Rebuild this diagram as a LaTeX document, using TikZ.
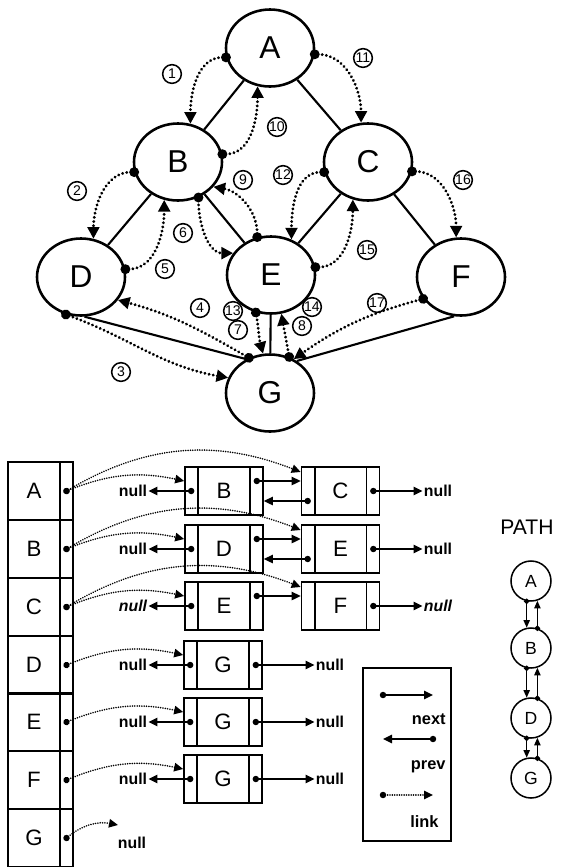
\documentclass[tikz,border=0pt]{standalone}
\usepackage{fontspec}
\setmainfont{Liberation Sans}
\usetikzlibrary{calc,positioning,arrows.meta,shapes.geometric}

\newcommand{\fsz}[1]{\fontsize{#1}{#1}\selectfont}
% list box: name, x, y, label
\newcommand{\listnode}[4]{%
  \node[lbox] (#1) at (#2,#3) {#4};
  \draw[lline] ($(#1.north west)+(4.2mm,0)$) -- ($(#1.south west)+(4.2mm,0)$);
  \draw[lline] ($(#1.north east)-(4.2mm,0)$) -- ($(#1.south east)-(4.2mm,0)$);
  \coordinate (#1-l) at ($(#1.west)+(2.1mm,0)$);
  \coordinate (#1-r) at ($(#1.east)-(2.1mm,0)$);
}

\tikzset{
  gnode/.style={ellipse, draw, line width=2.2pt, minimum width=26.4mm, minimum height=23.1mm, inner sep=0pt, font=\fsz{27}},
  gedge/.style={line width=1.8pt},
  glink/.style={line width=2.7pt, line cap=round, dash pattern=on 0.01pt off 3.6pt,
    {Circle[length=2.9mm]}-{Triangle[length=3.5mm,width=3.5mm]}, shorten <=-1.45mm},
  num/.style={circle, draw, line width=1.3pt, inner sep=0pt, minimum size=5.6mm, font=\fsz{12}},
  hcell/.style={draw, line width=1.4pt, outer sep=0pt, minimum width=15.6mm, minimum height=17.37mm, inner sep=0pt, font=\fsz{19}},
  hptr/.style={draw, line width=1.4pt, outer sep=0pt, minimum width=3.9mm, minimum height=17.37mm, inner sep=0pt},
  lbox/.style={draw, line width=1.4pt, minimum width=23.4mm, minimum height=14.4mm, inner sep=0pt, font=\fsz{19}},
  lline/.style={line width=1.4pt},
  nulltxt/.style={font=\bfseries\fsz{13.5}, inner sep=1pt},
  legtxt/.style={font=\bfseries\fsz{14}, inner sep=1pt},
  nextarr/.style={line width=1.3pt, {Circle[length=1.9mm]}-{Triangle[length=2.7mm,width=2.5mm]}, shorten <=-0.95mm},
  llink/.style={line width=1.5pt, line cap=round, dash pattern=on 0.01pt off 2pt,
    {Circle[length=1.9mm]}-{Triangle[length=2.7mm,width=2.5mm]}, shorten <=-0.95mm},
  pnode/.style={circle, draw, line width=1.3pt, minimum size=12mm, inner sep=0pt, font=\fsz{15}},
  parr/.style={line width=1.2pt, {Circle[length=1.6mm]}-{Triangle[length=2.3mm,width=1.9mm]}, shorten <=-0.8mm},
}

\begin{document}
\begin{tikzpicture}[x=0.3mm,y=-0.3mm]
\useasboundingbox (0,0) rectangle (560,867);

% graph
\node[gnode] (gA) at (270,48) {A};
\node[gnode] (gB) at (178,162) {B};
\node[gnode] (gC) at (368,162) {C};
\node[gnode] (gD) at (81,277) {D};
\node[gnode] (gE) at (271,275) {E};
\node[gnode] (gF) at (461,277) {F};
\node[gnode] (gG) at (270,393) {G};

\draw[gedge] (gA) -- (gB);
\draw[gedge] (gA) -- (gC);
\draw[gedge] (gB) -- (gD);
\draw[gedge] (gB) -- (gE);
\draw[gedge] (gC) -- (gE);
\draw[gedge] (gC) -- (gF);
\draw[gedge] (gD.-85) -- (gG.125);
\draw[gedge] (gE) -- (gG);
\draw[gedge] (gF.-100) -- (gG.50);

% search order
\draw[glink] (gA.192) to[out=180,in=90] (gB.72);
\draw[glink] (gB.193) to[out=180,in=90] (gD.72);
\draw[glink] (gD.-112) to[out=-20,in=170] (gG.160);
\draw[glink] (gG.121) to[out=150,in=-15] (gD.-32);
\draw[glink] (gD.10) to[out=0,in=-90] (gB.-110);
\draw[glink] (gB.-60) to[out=-90,in=180] (gE.150);
\draw[glink] (gE.-112) to[out=-80,in=105] (gG.100);
\draw[glink] (gG.62) to[out=100,in=-80] (gE.-75);
\draw[glink] (gE.110) to[out=90,in=-10] (gB.-35);
\draw[glink] (gB.10) to[out=0,in=-90] (gA.-108);
\draw[glink] (gA.-8) to[out=0,in=90] (gC.100);
\draw[glink] (gC.193) to[out=180,in=90] (gE.60);
\draw[glink] (gE.10) to[out=0,in=-90] (gC.-112);
\draw[glink] (gC.-12) to[out=0,in=90] (gF.97);
\draw[glink] (gF.210) to[out=195,in=35] (gG.55);

\node[num] (n1) at (172,74) {1};
\node[num] (n2) at (77,191) {2};
\node[num] (n3) at (121,372) {3};
\node[num] (n4) at (200,308) {4};
\node[num] (n5) at (165,269) {5};
\node[num] (n6) at (183,233) {6};
\node[num] (n7) at (238,330) {7};
\node[num] (n8) at (302,326) {8};
\node[num] (n9) at (243,180) {9};
\node[num] (n10) at (277,127) {10};
\node[num] (n11) at (363,58) {11};
\node[num] (n12) at (283,175) {12};
\node[num] (n13) at (233,311) {13};
\node[num] (n14) at (312,307) {14};
\node[num] (n15) at (367,250) {15};
\node[num] (n16) at (463,180) {16};
\node[num] (n17) at (377,303) {17};

% adjacency lists
\node[hcell] (hA) at (34,491) {A};
\node[hcell] (hB) at (34,549) {B};
\node[hcell] (hC) at (34,607) {C};
\node[hcell] (hD) at (34,665) {D};
\node[hcell] (hE) at (34,722) {E};
\node[hcell] (hF) at (34,780) {F};
\node[hcell] (hG) at (34,838) {G};
\node[hptr, right=0pt of hA] (hA-p) {};
\node[hptr, right=0pt of hB] (hB-p) {};
\node[hptr, right=0pt of hC] (hC-p) {};
\node[hptr, right=0pt of hD] (hD-p) {};
\node[hptr, right=0pt of hE] (hE-p) {};
\node[hptr, right=0pt of hF] (hF-p) {};
\node[hptr, right=0pt of hG] (hG-p) {};

\listnode{nB}{224}{491}{B}
\listnode{nC}{340.5}{491}{C}
\listnode{nD}{224}{549}{D}
\listnode{nE}{340.5}{549}{E}
\listnode{nEb}{224}{606}{E}
\listnode{nF}{340.5}{606}{F}
\listnode{nGd}{223}{665}{G}
\listnode{nGe}{223}{722}{G}
\listnode{nGf}{223}{779}{G}

\node[nulltxt] (z1l) at (133,491) {null};
\node[nulltxt] (z1r) at (438,491) {null};
\node[nulltxt] (z2l) at (133,549) {null};
\node[nulltxt] (z2r) at (438,549) {null};
\node[nulltxt, font=\bfseries\itshape\fsz{13.5}] (z3l) at (133,606) {null};
\node[nulltxt, font=\bfseries\itshape\fsz{13.5}] (z3r) at (438,606) {null};
\node[nulltxt] (z4l) at (133,665) {null};
\node[nulltxt] (z4r) at (330,665) {null};
\node[nulltxt] (z5l) at (133,722) {null};
\node[nulltxt] (z5r) at (330,722) {null};
\node[nulltxt] (z6l) at (133,779) {null};
\node[nulltxt] (z6r) at (330,779) {null};
\node[nulltxt] (z7) at (132,843) {null};
\coordinate (z7end) at (118,825);

\draw[llink] (hA-p.center) to[bend left=17] ($(nB.west)+(0,3mm)$);
\draw[llink] (hA-p.center) to[bend left=26] ($(nC.west)+(0,5.7mm)$);
\draw[llink] (hB-p.center) to[bend left=17] ($(nD.west)+(0,3mm)$);
\draw[llink] (hB-p.center) to[bend left=26] ($(nE.west)+(0,5.7mm)$);
\draw[llink] (hC-p.center) to[bend left=17] ($(nEb.west)+(0,3mm)$);
\draw[llink] (hC-p.center) to[bend left=26] ($(nF.west)+(0,5.7mm)$);
\draw[llink] (hD-p.center) to[bend left=17] ($(nGd.west)+(0,3mm)$);
\draw[llink] (hE-p.center) to[bend left=17] ($(nGe.west)+(0,3mm)$);
\draw[llink] (hF-p.center) to[bend left=17] ($(nGf.west)+(0,3mm)$);
\draw[llink] (hG-p.center) to[bend left=25] (z7end);

\draw[nextarr] (nB-l) -- (z1l.east);
\draw[nextarr] ($(nB-r)+(0,3mm)$) -- ($(nC.west)+(0,3mm)$);
\draw[nextarr] ($(nC-l)-(0,3mm)$) -- ($(nB.east)-(0,3mm)$);
\draw[nextarr] (nC-r) -- (z1r.west);
\draw[nextarr] (nD-l) -- (z2l.east);
\draw[nextarr] ($(nD-r)+(0,3mm)$) -- ($(nE.west)+(0,3mm)$);
\draw[nextarr] ($(nE-l)-(0,3mm)$) -- ($(nD.east)-(0,3mm)$);
\draw[nextarr] (nE-r) -- (z2r.west);
\draw[nextarr] (nEb-l) -- (z3l.east);
\draw[nextarr] ($(nEb-r)+(0,3mm)$) -- ($(nF.west)+(0,3mm)$);
\draw[nextarr] (nF-r) -- (z3r.west);
\draw[nextarr] (nGd-l) -- (z4l.east);
\draw[nextarr] (nGd-r) -- (z4r.west);
\draw[nextarr] (nGe-l) -- (z5l.east);
\draw[nextarr] (nGe-r) -- (z5r.west);
\draw[nextarr] (nGf-l) -- (z6l.east);
\draw[nextarr] (nGf-r) -- (z6r.west);

% legend
\node[draw, line width=1pt, minimum width=26.4mm, minimum height=51.9mm, inner sep=0pt] (legend) at (407,754.5) {};
\coordinate (nxa) at (383,695);
\coordinate (nxb) at (433,695);
\coordinate (pva) at (433,739);
\coordinate (pvb) at (383,739);
\coordinate (lka) at (383,795);
\coordinate (lkb) at (433,795);
\draw[nextarr] (nxa) -- (nxb);
\draw[nextarr] (pva) -- (pvb);
\draw[llink] (lka) -- (lkb);
\node[legtxt, anchor=east] (tnext) at (447,719) {next};
\node[legtxt, anchor=east] (tprev) at (447,767) {prev};
\node[legtxt, anchor=east] (tlink) at (440,822) {link};

% path
\node[font=\fsz{18}] (ptitle) at (527,527) {PATH};
\node[pnode] (pA) at (531,581) {A};
\node[pnode] (pB) at (531,648) {B};
\node[pnode] (pD) at (531,718) {D};
\node[pnode] (pG) at (531,778) {G};
\draw[parr] (pA.-102) -- (pB.102);
\draw[parr] (pB.72) -- (pA.-72);
\draw[parr] (pB.-102) -- (pD.102);
\draw[parr] (pD.72) -- (pB.-72);
\draw[parr] (pD.-102) -- (pG.102);
\draw[parr] (pG.72) -- (pD.-72);

\end{tikzpicture}
\end{document}
